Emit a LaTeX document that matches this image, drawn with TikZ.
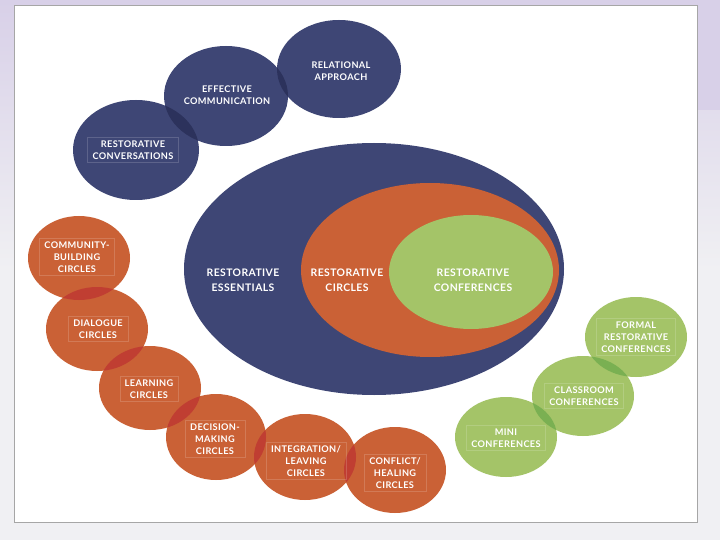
\documentclass[tikz,border=0pt]{standalone}
\usepackage{fontspec}
\setmainfont{Lato}[UprightFont=* Bold, LetterSpace=4]
\definecolor{navy}{RGB}{62,70,117}
\definecolor{navyD}{RGB}{44,50,92}
\definecolor{orng}{RGB}{202,97,54}
\definecolor{orngD}{RGB}{192,62,50}
\definecolor{grn}{RGB}{164,196,104}
\definecolor{grnD}{RGB}{122,176,82}
\definecolor{lav}{RGB}{216,208,232}
\definecolor{bgl}{RGB}{240,240,243}
\def\EL#1#2#3#4{(#1,#2) ellipse [x radius=#3pt, y radius=#4pt]}
\tikzset{
  lbl/.style={text=white, align=center, font=\fontsize{9.2}{12.2}\selectfont, inner xsep=5pt, inner ysep=3pt},
  bx/.style={lbl, draw=white, draw opacity=0.16, line width=0.4pt},
  big/.style={text=white, align=center, font=\fontsize{10.4}{15}\selectfont}
}
\begin{document}
\begin{tikzpicture}[x=1pt,y=-1pt]
\useasboundingbox (0,0) rectangle (720,540);
\shade[top color=lav, bottom color=bgl, middle color=bgl] (0,0) rectangle (720,540);
\fill[lav] (0,0) rectangle (720,5);
\fill[lav] (697,0) rectangle (720,110);
\fill[white, draw=gray!70, line width=0.6pt] (14,5) rectangle (697,522);
% navy small
\fill[navy] \EL{339}{69}{62}{49};
\fill[navy] \EL{226}{96}{62}{50};
\fill[navy] \EL{136}{150}{63}{50};
\begin{scope}\clip \EL{339}{69}{62}{49}; \fill[navyD] \EL{226}{96}{62}{50};\end{scope}
\begin{scope}\clip \EL{226}{96}{62}{50}; \fill[navyD] \EL{136}{150}{63}{50};\end{scope}
% big nested
\fill[navy] \EL{374}{269}{190}{126};
\fill[orng] \EL{430}{270}{129}{87};
\fill[grn] \EL{471}{272}{82}{57};
% orange chain
\fill[orng] \EL{79}{258}{51}{42};
\fill[orng] \EL{97}{329}{51}{42};
\fill[orng] \EL{150}{388}{51}{42};
\fill[orng] \EL{216}{437}{50}{43};
\fill[orng] \EL{305}{457}{51}{43};
\fill[orng] \EL{395}{470}{51}{43};
\begin{scope}\clip \EL{79}{258}{51}{42}; \fill[orngD] \EL{97}{329}{51}{42};\end{scope}
\begin{scope}\clip \EL{97}{329}{51}{42}; \fill[orngD] \EL{150}{388}{51}{42};\end{scope}
\begin{scope}\clip \EL{150}{388}{51}{42}; \fill[orngD] \EL{216}{437}{50}{43};\end{scope}
\begin{scope}\clip \EL{216}{437}{50}{43}; \fill[orngD] \EL{305}{457}{51}{43};\end{scope}
\begin{scope}\clip \EL{305}{457}{51}{43}; \fill[orngD] \EL{395}{470}{51}{43};\end{scope}
% green chain
\fill[grn] \EL{636}{337}{51}{40};
\fill[grn] \EL{583}{396}{51}{40};
\fill[grn] \EL{506}{437}{51}{40};
\begin{scope}\clip \EL{636}{337}{51}{40}; \fill[grnD] \EL{583}{396}{51}{40};\end{scope}
\begin{scope}\clip \EL{583}{396}{51}{40}; \fill[grnD] \EL{506}{437}{51}{40};\end{scope}
% labels
\node[lbl] (rel) at (341,71) {RELATIONAL\\APPROACH};
\node[lbl] (eff) at (227,95) {EFFECTIVE\\COMMUNICATION};
\node[bx] (conv) at (133,150) {RESTORATIVE\\CONVERSATIONS};
\node[big] (ess) at (243,280) {RESTORATIVE\\ESSENTIALS};
\node[big] (circ) at (347,280) {RESTORATIVE\\CIRCLES};
\node[big] (conf) at (473,280) {RESTORATIVE\\CONFERENCES};
\node[bx] (comm) at (77,257) {COMMUNITY-\\BUILDING\\CIRCLES};
\node[bx] (dia) at (98,329) {DIALOGUE\\CIRCLES};
\node[bx] (learn) at (149,389) {LEARNING\\CIRCLES};
\node[bx] (dec) at (215,439) {DECISION-\\MAKING\\CIRCLES};
\node[bx] (integ) at (306,461) {INTEGRATION/\\LEAVING\\CIRCLES};
\node[bx] (confl) at (395,473) {CONFLICT/\\HEALING\\CIRCLES};
\node[bx] (formal) at (636,337) {FORMAL\\RESTORATIVE\\CONFERENCES};
\node[bx] (class) at (584,396) {CLASSROOM\\CONFERENCES};
\node[bx] (mini) at (506,438) {MINI\\CONFERENCES};
\end{tikzpicture}
\end{document}
